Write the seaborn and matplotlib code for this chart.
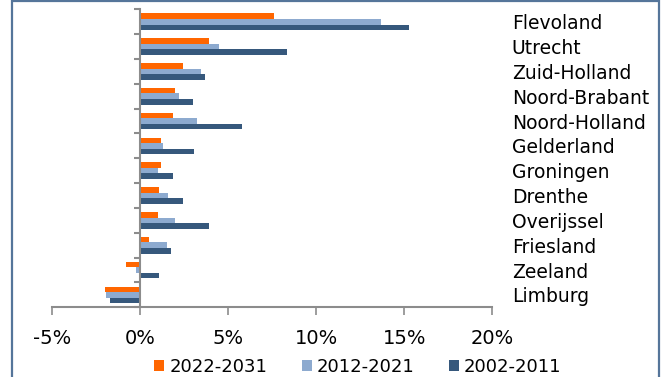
import matplotlib
matplotlib.use("Agg")
import matplotlib.pyplot as plt
import matplotlib.patches as mpatches
from matplotlib.ticker import FuncFormatter, FixedLocator
import seaborn as sns
import pandas as pd

regions = ["Flevoland", "Utrecht", "Zuid-Holland", "Noord-Brabant", "Noord-Holland",
           "Gelderland", "Groningen", "Drenthe", "Overijssel", "Friesland",
           "Zeeland", "Limburg"]
periods = ["2022-2031", "2012-2021", "2002-2011"]
growth_2022_2031 = [7.6, 3.9, 2.45, 2.0, 1.9, 1.2, 1.2, 1.1, 1.05, 0.5, -0.8, -2.0]
growth_2012_2021 = [13.7, 4.5, 3.45, 2.25, 3.25, 1.3, 1.05, 1.6, 2.0, 1.55, -0.2, -1.9]
growth_2002_2011 = [15.3, 8.35, 3.7, 3.0, 5.8, 3.1, 1.9, 2.45, 3.95, 1.75, 1.1, -1.7]
x_ticks = [-5, 0, 5, 10, 15, 20]
colors = ["#FF6600", "#8DAACF", "#36587C"]

rows = []
for period, values in zip(periods, [growth_2022_2031, growth_2012_2021, growth_2002_2011]):
    for region, v in zip(regions, values):
        rows.append({"region": region, "period": period, "value": v})
df = pd.DataFrame(rows)

sns.set_style("white")
plt.rcParams["font.family"] = ["DejaVu Sans"]
plt.rcParams["axes.unicode_minus"] = False
plt.rcParams["text.color"] = "black"
plt.rcParams["xtick.labelcolor"] = "black"
plt.rcParams["ytick.labelcolor"] = "black"

fig = plt.figure(figsize=(6.7, 3.77), dpi=100)
ax = fig.add_axes([0.0772, 0.1849, 0.6576, 0.7904])

sns.barplot(data=df, y="region", x="value", hue="period", order=regions,
            hue_order=periods, palette=colors, orient="h", width=0.67,
            saturation=1, linewidth=0, legend=False, ax=ax)

axis_grey = "#8C8C8C"
ax.set_xlim(-5, 20)
ax.set_ylim(len(regions) - 0.5, -0.5)
ax.set_xlabel("")
ax.set_ylabel("")

# x axis
ax.set_xticks(x_ticks)
ax.xaxis.set_major_formatter(FuncFormatter(lambda v, p: f"{v:.0f}%"))
ax.tick_params(axis="x", which="major", direction="out", length=5.5, width=1.2,
               color=axis_grey, labelcolor="black", labelsize=14, pad=10, bottom=True)

# y axis: spine through zero, boundary ticks, labels on the right
for side in ["top", "right"]:
    ax.spines[side].set_visible(False)
ax.spines["left"].set_position(("data", 0))
for side in ["left", "bottom"]:
    ax.spines[side].set_color(axis_grey)
    ax.spines[side].set_linewidth(1.5)

ax.set_yticks(range(len(regions)))
ax.set_yticklabels(regions)
ax.yaxis.set_minor_locator(FixedLocator([i - 0.5 for i in range(len(regions) + 1)]))
ax.tick_params(axis="y", which="major", left=False, right=True, length=0,
               labelleft=False, labelright=True, labelcolor="black",
               labelsize=13.5, pad=14)
ax.tick_params(axis="y", which="minor", left=True, right=False, direction="out",
               length=4.5, width=1.5, color=axis_grey)
for lbl in ax.get_yticklabels():
    lbl.set_horizontalalignment("left")

handles = [mpatches.Patch(facecolor=c, edgecolor="none", label=p)
           for c, p in zip(colors, periods)]
leg = fig.legend(handles=handles, loc="center", bbox_to_anchor=(358 / 670, 1 - 367 / 377),
                 ncol=3, frameon=False, fontsize=13, handlelength=0.56, handleheight=0.56,
                 handletextpad=0.28, columnspacing=1.9, borderpad=0, borderaxespad=0)
for t in leg.get_texts():
    t.set_color("black")

# chart frame
frame = mpatches.Rectangle((12 / 670, -0.05), 647 / 670, 1.05 - 1 / 377,
                           transform=fig.transFigure, fill=False,
                           edgecolor="#55759A", linewidth=1.6, clip_on=False)
fig.patches.append(frame)

fig.savefig("out.png", dpi=100)
